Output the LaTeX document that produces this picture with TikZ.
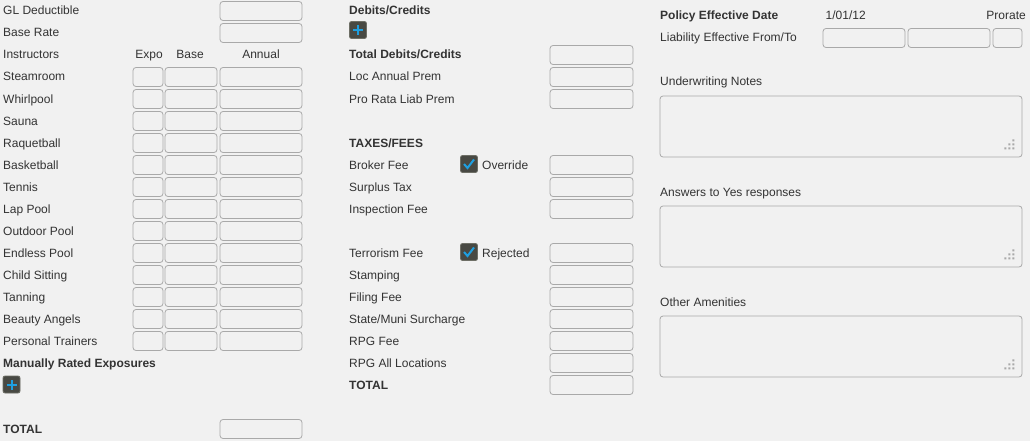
\documentclass[tikz,border=0pt]{standalone}
\usepackage{fontspec}
\setmainfont{Liberation Sans}
\definecolor{pagebg}{HTML}{F1F1F1}
\definecolor{fieldline}{HTML}{A9A9A9}
\definecolor{labeltext}{HTML}{333333}
\definecolor{btnfill}{HTML}{484943}
\definecolor{btnedge}{HTML}{6E6F66}
\definecolor{btnblue}{HTML}{1E9FE0}
\tikzset{
  lbl/.style={anchor=base west, inner sep=0pt, text=labeltext, font=\fontsize{12}{14}\selectfont},
  hdr/.style={lbl, font=\fontsize{12}{14}\selectfont\bfseries},
  colhead/.style={lbl, anchor=base},
  fld/.style={draw=fieldline, fill=pagebg, rounded corners=3pt, minimum height=19pt, inner sep=0pt, line width=0.8pt},
  expofld/.style={fld, minimum width=30pt},
  basefld/.style={fld, minimum width=52pt},
  annfld/.style={fld, minimum width=82pt},
  midfld/.style={fld, minimum width=83pt},
  notefld/.style={fld, minimum width=362pt, minimum height=61pt},
  btn/.style={draw=btnedge, fill=btnfill, rounded corners=2pt, minimum size=17pt, inner sep=0pt, line width=0.8pt},
  btnmark/.style={btnblue, line width=2pt},
  grip/.pic={\fill[fieldline] (-10,-18) rectangle ++(2,2) (-14,-14) rectangle ++(2,2) (-10,-14) rectangle ++(2,2)
    (-18,-10) rectangle ++(2,2) (-14,-10) rectangle ++(2,2) (-10,-10) rectangle ++(2,2);}
}
\begin{document}
\begin{tikzpicture}[x=1pt, y=-1pt]
      \fill[pagebg] (0,0) rectangle (1030,441);%
      \useasboundingbox (0,0) rectangle (1030,441);%

      % left column
      \node[lbl] (lGL) at (3,15) {GL Deductible};%
      \node[annfld] (aGL) at (261,11) {};%
      \node[lbl] (lRate) at (3,37) {Base Rate};%
      \node[annfld] (aRate) at (261,33) {};%
      \node[lbl] (lInstr) at (3,59) {Instructors};%
      \node[colhead] (hExpo) at (149,59) {Expo};%
      \node[colhead] (hBase) at (190,59) {Base};%
      \node[colhead] (hAnn) at (261,59) {Annual};%

      \node[lbl] (lSteam) at (3,81) {Steamroom};%
      \node[expofld] (eSteam) at (148,77) {};%
      \node[basefld] (bSteam) at (191,77) {};%
      \node[annfld] (aSteam) at (261,77) {};%

      \node[lbl] (lWhirl) at (3,103) {Whirlpool};%
      \node[expofld] (eWhirl) at (148,99) {};%
      \node[basefld] (bWhirl) at (191,99) {};%
      \node[annfld] (aWhirl) at (261,99) {};%

      \node[lbl] (lSauna) at (3,125) {Sauna};%
      \node[expofld] (eSauna) at (148,121) {};%
      \node[basefld] (bSauna) at (191,121) {};%
      \node[annfld] (aSauna) at (261,121) {};%

      \node[lbl] (lRaq) at (3,147) {Raquetball};%
      \node[expofld] (eRaq) at (148,143) {};%
      \node[basefld] (bRaq) at (191,143) {};%
      \node[annfld] (aRaq) at (261,143) {};%

      \node[lbl] (lBask) at (3,169) {Basketball};%
      \node[expofld] (eBask) at (148,165) {};%
      \node[basefld] (bBask) at (191,165) {};%
      \node[annfld] (aBask) at (261,165) {};%

      \node[lbl] (lTennis) at (3,191) {Tennis};%
      \node[expofld] (eTennis) at (148,187) {};%
      \node[basefld] (bTennis) at (191,187) {};%
      \node[annfld] (aTennis) at (261,187) {};%

      \node[lbl] (lLap) at (3,213) {Lap Pool};%
      \node[expofld] (eLap) at (148,209) {};%
      \node[basefld] (bLap) at (191,209) {};%
      \node[annfld] (aLap) at (261,209) {};%

      \node[lbl] (lOutdoor) at (3,235) {Outdoor Pool};%
      \node[expofld] (eOutdoor) at (148,231) {};%
      \node[basefld] (bOutdoor) at (191,231) {};%
      \node[annfld] (aOutdoor) at (261,231) {};%

      \node[lbl] (lEndless) at (3,257) {Endless Pool};%
      \node[expofld] (eEndless) at (148,253) {};%
      \node[basefld] (bEndless) at (191,253) {};%
      \node[annfld] (aEndless) at (261,253) {};%

      \node[lbl] (lChild) at (3,279) {Child Sitting};%
      \node[expofld] (eChild) at (148,275) {};%
      \node[basefld] (bChild) at (191,275) {};%
      \node[annfld] (aChild) at (261,275) {};%

      \node[lbl] (lTan) at (3,301) {Tanning};%
      \node[expofld] (eTan) at (148,297) {};%
      \node[basefld] (bTan) at (191,297) {};%
      \node[annfld] (aTan) at (261,297) {};%

      \node[lbl] (lBeauty) at (3,323) {Beauty Angels};%
      \node[expofld] (eBeauty) at (148,319) {};%
      \node[basefld] (bBeauty) at (191,319) {};%
      \node[annfld] (aBeauty) at (261,319) {};%

      \node[lbl] (lTrainer) at (3,345) {Personal Trainers};%
      \node[expofld] (eTrainer) at (148,341) {};%
      \node[basefld] (bTrainer) at (191,341) {};%
      \node[annfld] (aTrainer) at (261,341) {};%

      \node[hdr] (lManual) at (3,367) {Manually Rated Exposures};%
      \node[btn] (addManual) at (11.5,384.5) {};%
      \draw[btnmark] ([xshift=-5pt]addManual.center) -- ([xshift=5pt]addManual.center);%
      \draw[btnmark] ([yshift=-5pt]addManual.center) -- ([yshift=5pt]addManual.center);%

      \node[hdr] (lTotL) at (3,433) {TOTAL};%
      \node[annfld] (aTotL) at (261,429) {};%

      % middle column
      \node[hdr] (lDebits) at (349,15) {Debits/Credits};%
      \node[btn] (addDebit) at (358,30) {};%
      \draw[btnmark] ([xshift=-5pt]addDebit.center) -- ([xshift=5pt]addDebit.center);%
      \draw[btnmark] ([yshift=-5pt]addDebit.center) -- ([yshift=5pt]addDebit.center);%

      \node[hdr] (lTotDeb) at (349,59) {Total Debits/Credits};%
      \node[midfld] (fTotDeb) at (591.5,55) {};%
      \node[lbl] (lLocPrem) at (349,81) {Loc Annual Prem};%
      \node[midfld] (fLocPrem) at (591.5,77) {};%
      \node[lbl] (lProRata) at (349,103) {Pro Rata Liab Prem};%
      \node[midfld] (fProRata) at (591.5,99) {};%

      \node[hdr] (lTaxes) at (349,147) {TAXES/FEES};%
      \node[lbl] (lBroker) at (349,169) {Broker Fee};%
      \node[btn] (cOverride) at (469,164) {};%
      \draw[btnmark] ([xshift=-5pt,yshift=0pt]cOverride.center) -- ([xshift=-1.5pt,yshift=-4pt]cOverride.center) -- ([xshift=5pt,yshift=4.5pt]cOverride.center);%
      \node[lbl] (tOverride) at (482,169) {Override};%
      \node[midfld] (fBroker) at (591.5,165) {};%
      \node[lbl] (lSurplus) at (349,191) {Surplus Tax};%
      \node[midfld] (fSurplus) at (591.5,187) {};%
      \node[lbl] (lInspect) at (349,213) {Inspection Fee};%
      \node[midfld] (fInspect) at (591.5,209) {};%

      \node[lbl] (lTerror) at (349,257) {Terrorism Fee};%
      \node[btn] (cRejected) at (469,252) {};%
      \draw[btnmark] ([xshift=-5pt,yshift=0pt]cRejected.center) -- ([xshift=-1.5pt,yshift=-4pt]cRejected.center) -- ([xshift=5pt,yshift=4.5pt]cRejected.center);%
      \node[lbl] (tRejected) at (482,257) {Rejected};%
      \node[midfld] (fTerror) at (591.5,253) {};%
      \node[lbl] (lStamp) at (349,279) {Stamping};%
      \node[midfld] (fStamp) at (591.5,275) {};%
      \node[lbl] (lFiling) at (349,301) {Filing Fee};%
      \node[midfld] (fFiling) at (591.5,297) {};%
      \node[lbl] (lStateMuni) at (349,323) {State/Muni Surcharge};%
      \node[midfld] (fStateMuni) at (591.5,319) {};%
      \node[lbl] (lRPG) at (349,345) {RPG Fee};%
      \node[midfld] (fRPG) at (591.5,341) {};%
      \node[lbl] (lRPGAll) at (349,367) {RPG All Locations};%
      \node[midfld] (fRPGAll) at (591.5,363) {};%
      \node[hdr] (lTotM) at (349,389) {TOTAL};%
      \node[midfld] (fTotM) at (591.5,385) {};%

      % right column
      \node[hdr] (lPolicy) at (660,20) {Policy Effective Date};%
      \node[lbl] (tDate) at (825.5,20) {1/01/12};%
      \node[lbl, anchor=base east] (tProrate) at (1026,20) {Prorate};%
      \node[lbl] (lLiab) at (660,42) {Liability Effective From/To};%
      \node[annfld] (fFrom) at (864,38) {};%
      \node[annfld] (fTo) at (949,38) {};%
      \node[expofld, minimum width=29pt] (fProrate) at (1007.5,38) {};%

      \node[lbl] (lUWNotes) at (660,86) {Underwriting Notes};%
      \node[notefld] (fUWNotes) at (841,126.5) {};%
      \pic at (fUWNotes.south east) {grip};%
      \node[lbl] (lAnswers) at (660,196) {Answers to Yes responses};%
      \node[notefld] (fAnswers) at (841,236.5) {};%
      \pic at (fAnswers.south east) {grip};%
      \node[lbl] (lAmenity) at (660,306) {Other Amenities};%
      \node[notefld] (fAmenity) at (841,346.5) {};%
      \pic at (fAmenity.south east) {grip};%
\end{tikzpicture}
\end{document}
